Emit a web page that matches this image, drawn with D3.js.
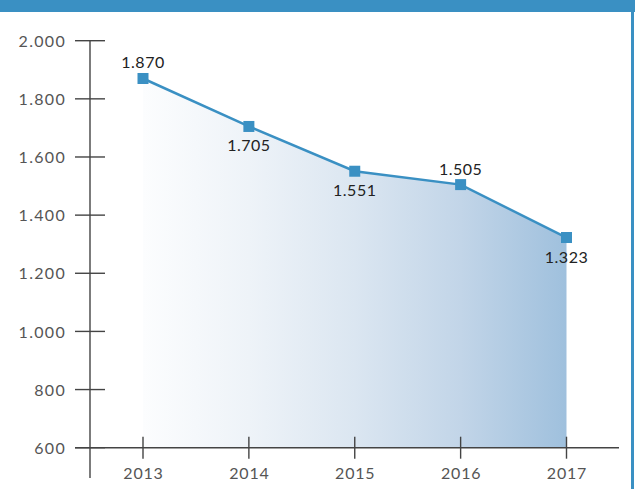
<!DOCTYPE html>
<html><head><meta charset="utf-8">
<script src="https://cdn.jsdelivr.net/npm/d3@7"></script>
<style>html,body{margin:0;padding:0;background:#fff;}svg{display:block;}</style>
</head><body>
<script>
const years = ["2013","2014","2015","2016","2017"];
const values = [1870,1705,1551,1505,1323];
const valueLabels = ["1.870","1.705","1.551","1.505","1.323"];
const labelPos = ["above","below","below","above","below"];
const yTicks = [600,800,1000,1200,1400,1600,1800,2000];
const yTickLabels = ["600","800","1.000","1.200","1.400","1.600","1.800","2.000"];

const W=635,H=489;
const svg=d3.select("body").append("svg").attr("width",W).attr("height",H);
const blue="#3a90c3";
svg.append("rect").attr("x",0).attr("y",0).attr("width",W).attr("height",12).attr("fill",blue);
svg.append("rect").attr("x",631).attr("y",12).attr("width",3).attr("height",H-12).attr("fill",blue);

const x=d3.scalePoint().domain(years).range([143,566.5]);
const y=d3.scaleLinear().domain([600,2000]).range([447.7,40.7]);

const defs=svg.append("defs");
const g=defs.append("linearGradient").attr("id","grad").attr("gradientUnits","userSpaceOnUse")
  .attr("x1",x("2013")).attr("x2",x("2017")).attr("y1",0).attr("y2",0);
[[0,"#fcfdfe"],[0.25,"#eef3f8"],[0.5,"#dbe6f1"],[0.75,"#c2d5e8"],[1,"#9fc0dd"]]
  .forEach(([o,c])=>g.append("stop").attr("offset",o).attr("stop-color",c));

const data=years.map((yr,i)=>({yr,v:values[i],lab:valueLabels[i],pos:labelPos[i]}));

svg.append("path").datum(data)
  .attr("d",d3.area().x(d=>x(d.yr)).y0(y(600)).y1(d=>y(d.v)))
  .attr("fill","url(#grad)");

const axisColor="#444";
const fontFam="Lato, 'Open Sans', sans-serif";

// y axis
const ya=svg.append("g").attr("transform","translate(90,0)")
  .call(d3.axisLeft(y).tickValues(yTicks).tickSize(0).tickFormat((d,i)=>yTickLabels[i]));
ya.select(".domain").remove();
ya.selectAll("text").attr("x",-24).attr("dy","0.35em").attr("fill","#555")
  .style("font-family",fontFam).style("font-size","16px").style("font-weight","400").style("letter-spacing","1.3px");
svg.append("line").attr("x1",90).attr("x2",90).attr("y1",y(2000)).attr("y2",478).attr("stroke",axisColor).attr("stroke-width",1.4);
svg.selectAll(".ytk").data(yTicks).enter().append("line")
  .attr("x1",75).attr("x2",105).attr("y1",d=>y(d)).attr("y2",d=>y(d))
  .attr("stroke",axisColor).attr("stroke-width",1.4);

// x axis
svg.append("line").attr("x1",75).attr("x2",619).attr("y1",y(600)).attr("y2",y(600)).attr("stroke",axisColor).attr("stroke-width",1.4);
const xa=svg.append("g").attr("transform",`translate(0,${y(600)})`)
  .call(d3.axisBottom(x).tickSize(0));
xa.select(".domain").remove();
xa.selectAll("text").attr("y",31.5).attr("dy",0).attr("fill","#555")
  .style("font-family",fontFam).style("font-size","16px").style("font-weight","400").style("letter-spacing","0.8px");
svg.selectAll(".xtk").data(years).enter().append("line")
  .attr("x1",d=>x(d)).attr("x2",d=>x(d)).attr("y1",y(600)-11).attr("y2",y(600)+11)
  .attr("stroke",axisColor).attr("stroke-width",1.4);

// line
svg.append("path").datum(data)
  .attr("d",d3.line().x(d=>x(d.yr)).y(d=>y(d.v)))
  .attr("fill","none").attr("stroke",blue).attr("stroke-width",2.5);

svg.selectAll(".mk").data(data).enter().append("rect")
  .attr("x",d=>x(d.yr)-5.5).attr("y",d=>y(d.v)-5.5).attr("width",11).attr("height",11).attr("fill",blue);

svg.selectAll(".lb").data(data).enter().append("text")
  .attr("x",d=>x(d.yr)).attr("y",d=>d.pos==="above"?y(d.v)-10:y(d.v)+25)
  .attr("text-anchor","middle").attr("fill","#222")
  .style("font-family",fontFam).style("font-size","16px").style("letter-spacing","0.5px")
  .text(d=>d.lab);
</script>
</body></html>
